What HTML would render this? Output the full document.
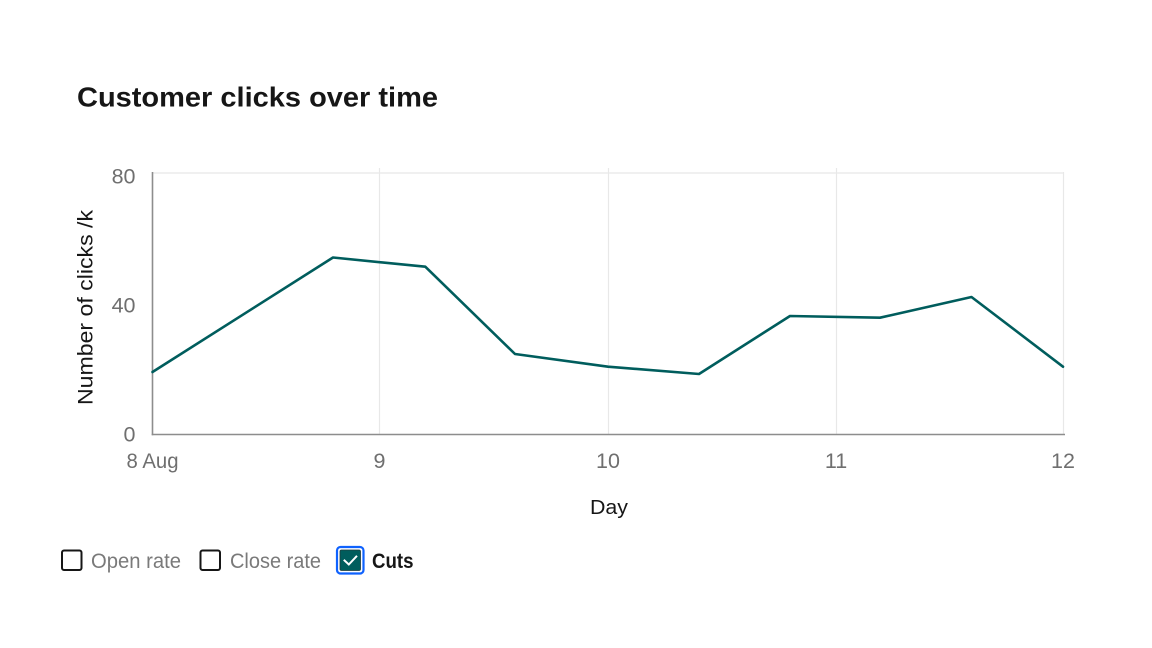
<!DOCTYPE html>
<html>
<head>
<meta charset="utf-8">
<style>
  html, body { margin:0; padding:0; background:#ffffff; }
  body { width:1152px; height:648px; overflow:hidden; }
  svg { display:block; }
  text { font-family: "Liberation Sans", "DejaVu Sans", sans-serif; }
</style>
</head>
<body>
<svg width="1152" height="648" viewBox="0 0 1152 648" xmlns="http://www.w3.org/2000/svg">
  <rect x="0" y="0" width="1152" height="648" fill="#ffffff"/>

  <!-- Title -->
  <text x="77" y="106.5" font-size="28" font-weight="bold" fill="#161616" textLength="361" lengthAdjust="spacingAndGlyphs">Customer clicks over time</text>

  <!-- Grid -->
  <g stroke="#e8e8e8" stroke-width="1.2" fill="none">
    <line x1="152" y1="173" x2="1064" y2="173"/>
    <line x1="379.5" y1="168" x2="379.5" y2="434"/>
    <line x1="608.5" y1="168" x2="608.5" y2="434"/>
    <line x1="836.5" y1="168" x2="836.5" y2="434"/>
    <line x1="1063.5" y1="172" x2="1063.5" y2="434"/>
  </g>

  <!-- Axes -->
  <g stroke="#8d8d8d" stroke-width="1.6" fill="none">
    <line x1="152.5" y1="172" x2="152.5" y2="435.3"/>
    <line x1="151.7" y1="434.5" x2="1065" y2="434.5"/>
  </g>

  <!-- Y tick labels -->
  <g font-size="21.5" fill="#6f6f6f" text-anchor="end">
    <text x="135.5" y="183.3">80</text>
    <text x="135.5" y="312.7">40</text>
    <text x="135.5" y="441.7">0</text>
  </g>

  <!-- X tick labels -->
  <g font-size="21.5" fill="#6f6f6f" text-anchor="middle">
    <text x="152.5" y="468" textLength="52" lengthAdjust="spacingAndGlyphs">8 Aug</text>
    <text x="379.5" y="468">9</text>
    <text x="608" y="468">10</text>
    <text x="836" y="468">11</text>
    <text x="1063" y="468">12</text>
  </g>

  <!-- Axis titles -->
  <text x="609" y="514" font-size="20.5" fill="#161616" text-anchor="middle" textLength="38" lengthAdjust="spacingAndGlyphs">Day</text>
  <text transform="translate(92.5,307.5) rotate(-90)" x="0" y="0" font-size="21.5" fill="#161616" text-anchor="middle" textLength="195" lengthAdjust="spacingAndGlyphs">Number of clicks /k</text>

  <!-- Series -->
  <polyline fill="none" stroke="#005d5d" stroke-width="2.6" stroke-linejoin="round" stroke-linecap="round"
    points="152.5,372 333,257.5 425.3,266.7 515,354 608,366.7 699,374 790,316 880,317.7 971.5,297 1063,366.7"/>

  <!-- Legend -->
  <rect x="62" y="550.5" width="19.5" height="19.5" rx="2" fill="#ffffff" stroke="#161616" stroke-width="2"/>
  <text x="91" y="568" font-size="21" fill="#7a7a7a" textLength="90" lengthAdjust="spacingAndGlyphs">Open rate</text>

  <rect x="200.5" y="550.5" width="19.5" height="19.5" rx="2" fill="#ffffff" stroke="#161616" stroke-width="2"/>
  <text x="230" y="568" font-size="21" fill="#7a7a7a" textLength="91" lengthAdjust="spacingAndGlyphs">Close rate</text>

  <rect x="337" y="547" width="26.5" height="26.5" rx="3.5" fill="#ffffff" stroke="#0f62fe" stroke-width="2.2"/>
  <rect x="340" y="550" width="20.5" height="20.5" rx="1.5" fill="#005d5d" stroke="#1f3a3a" stroke-width="0.8"/>
  <polyline points="344.5,560.5 348.8,564.5 356.3,556.5" fill="none" stroke="#ffffff" stroke-width="2" stroke-linecap="square"/>
  <text x="372" y="568" font-size="21" font-weight="bold" fill="#161616" textLength="41.5" lengthAdjust="spacingAndGlyphs">Cuts</text>
</svg>
</body>
</html>
